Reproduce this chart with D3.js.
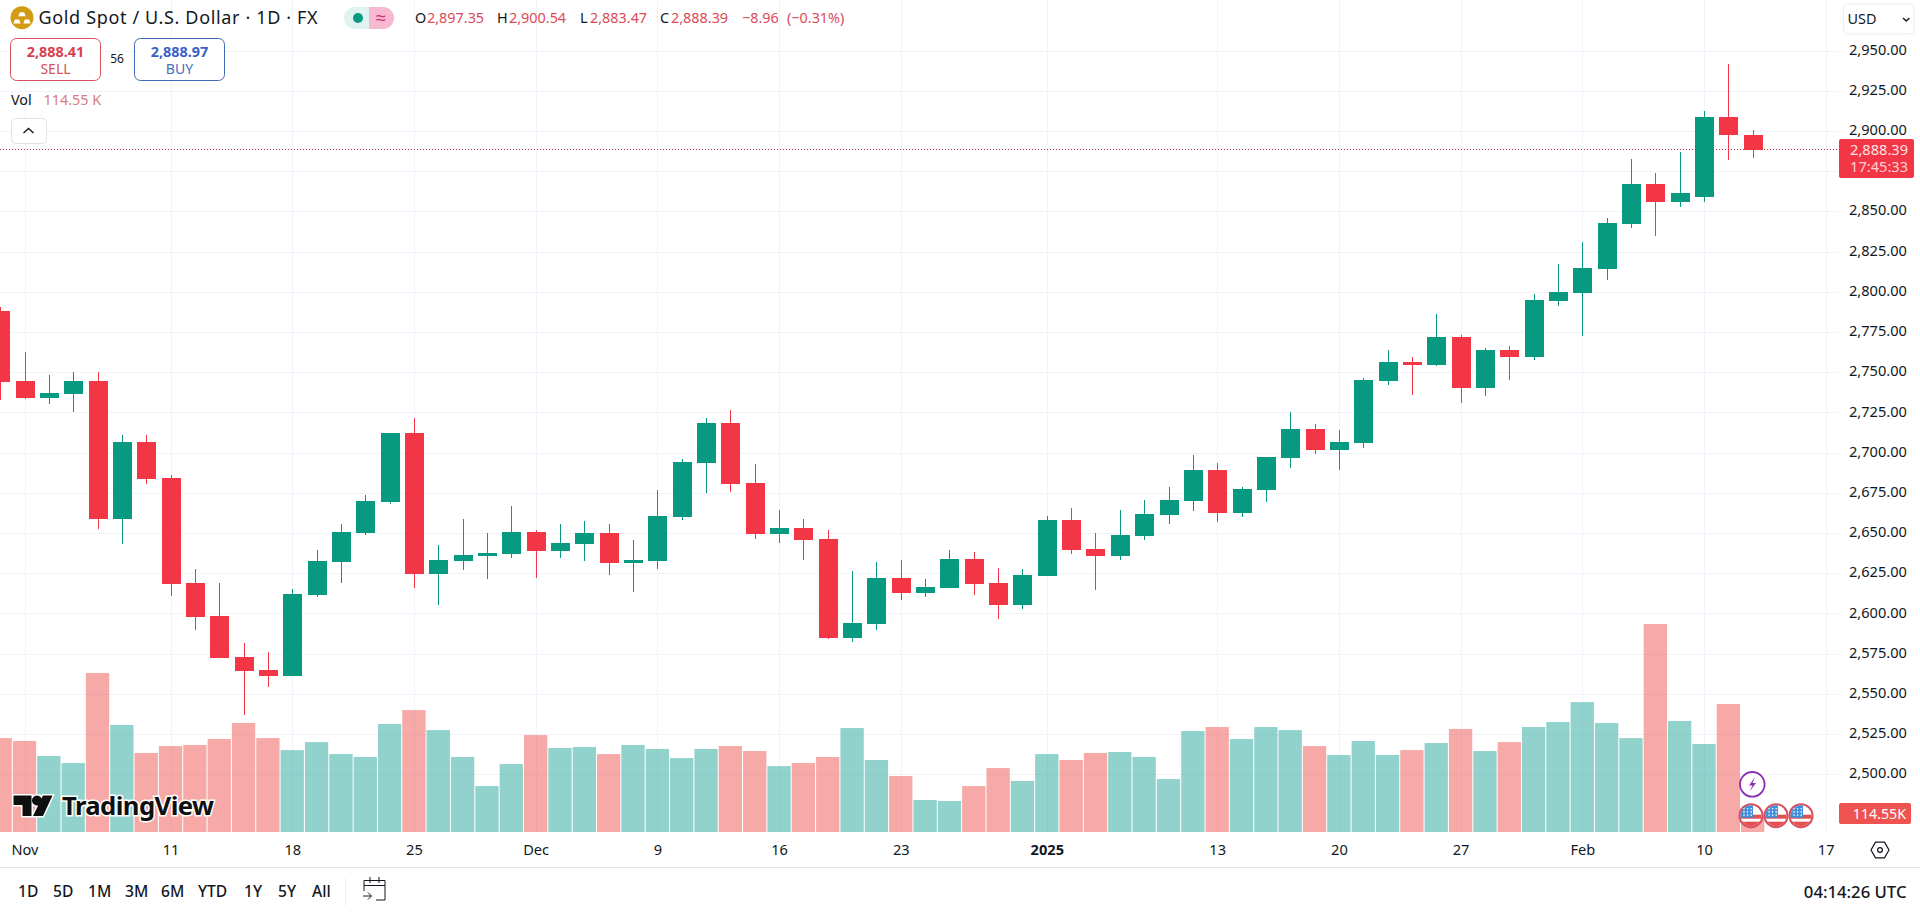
<!DOCTYPE html>
<html><head><meta charset="utf-8">
<script src="https://cdn.jsdelivr.net/npm/d3@7/dist/d3.min.js"></script>
<style>
html,body{margin:0;padding:0;background:#fff;overflow:hidden}
svg{display:block}
text{font-family:"Noto Sans",sans-serif}
.axis path,.grid path{display:none}
.grid line{stroke:#f0f3fa;stroke-width:1}
.grid text{display:none}
.axis line{display:none}
</style></head><body>
<svg id="c" width="1920" height="913"></svg>
<script>
// One session per entry, from 31 Oct 2024 to 12 Feb 2025
const open_ = [2788.1,2744.6,2734.0,2736.7,2744.6,2658.9,2706.6,2684.2,2618.9,2598.4,2572.9,2564.8,2561.3,2611.4,2632.2,2650.0,2669.3,2712.2,2624.7,2632.6,2635.7,2636.9,2650.6,2638.8,2643.2,2650.0,2631.3,2632.6,2660.0,2693.5,2718.4,2681.1,2649.4,2653.1,2646.3,2584.7,2593.4,2622.0,2612.7,2615.8,2633.8,2618.9,2605.2,2623.2,2658.1,2640.0,2635.7,2648.1,2661.2,2669.9,2689.2,2662.4,2676.7,2696.7,2714.7,2701.7,2706.0,2744.6,2756.4,2754.5,2771.9,2740.2,2763.8,2759.5,2794.3,2799.3,2814.2,2842.2,2867.1,2855.9,2859.0,2908.7,2897.35];
const high_ = [2790.8,2762.6,2748.3,2750.0,2750.0,2711.0,2711.0,2686.3,2627.6,2618.9,2581.6,2575.8,2615.2,2639.2,2655.6,2673.6,2712.2,2721.6,2642.5,2658.7,2650.0,2666.8,2651.7,2655.6,2657.5,2655.6,2645.6,2676.7,2696.0,2721.5,2726.5,2692.9,2664.3,2658.7,2651.9,2626.4,2632.0,2633.2,2621.4,2639.4,2638.2,2628.2,2627.6,2660.6,2665.5,2650.0,2664.3,2670.5,2678.6,2698.5,2693.5,2678.6,2697.3,2725.3,2717.8,2714.1,2746.4,2763.8,2759.5,2786.2,2773.2,2765.0,2766.3,2798.6,2817.3,2831.0,2845.9,2882.6,2873.9,2886.9,2912.5,2941.7,2900.54];
const low_ = [2732.8,2733.6,2730.3,2725.5,2652.5,2643.3,2680.7,2611.0,2589.9,2572.5,2537.0,2554.2,2561.3,2610.4,2618.9,2649.0,2668.0,2615.8,2605.2,2627.0,2621.4,2634.5,2622.0,2634.5,2632.6,2623.9,2613.3,2627.6,2658.1,2674.9,2675.5,2646.3,2643.8,2633.2,2584.0,2582.2,2589.7,2608.3,2610.2,2615.8,2611.4,2596.5,2602.7,2623.2,2637.0,2614.5,2633.2,2645.6,2655.6,2663.7,2656.8,2660.0,2669.3,2690.4,2699.2,2689.2,2703.1,2742.1,2735.9,2753.9,2730.7,2735.4,2745.2,2757.6,2791.2,2772.5,2807.4,2839.7,2834.7,2852.8,2855.9,2882.0,2883.47];
const close_ = [2744.2,2734.0,2736.9,2744.6,2658.9,2706.6,2683.8,2618.5,2598.0,2572.5,2564.2,2561.3,2612.0,2632.6,2650.6,2669.9,2712.2,2624.7,2633.2,2636.3,2637.6,2650.6,2638.8,2643.8,2650.0,2631.3,2633.2,2660.6,2694.2,2718.4,2680.5,2649.4,2653.1,2645.6,2584.7,2594.0,2622.0,2612.7,2616.4,2633.8,2618.3,2605.2,2623.9,2658.1,2639.4,2635.7,2648.8,2661.8,2670.5,2689.2,2662.4,2677.3,2697.3,2714.7,2701.7,2706.6,2745.2,2756.4,2754.5,2771.9,2740.2,2763.8,2759.5,2794.9,2799.9,2814.8,2842.8,2867.1,2855.9,2861.5,2908.7,2897.5,2888.39];
const volumeK = [587,569,475,431,994,669,494,537,544,581,681,587,512,562,487,469,675,762,637,469,287,425,606,525,531,487,544,519,462,519,537,506,412,431,469,650,450,350,200,194,287,400,319,487,450,494,500,469,331,631,656,581,656,637,537,481,569,481,512,556,644,506,562,656,687,812,681,587,1300,694,550,800,114.55];
const firstSession = -1;
const priceTicks = [2500,2525,2550,2575,2600,2625,2650,2675,2700,2725,2750,2775,2800,2825,2850,2875,2900,2925,2950];
const priceTickLabels = [2500,2525,2550,2575,2600,2625,2650,2675,2700,2725,2750,2775,2800,2825,2850,2900,2925,2950];
const timeTickSessions = [0,6,11,16,21,26,31,36,42,49,54,59,64,69,74];
const timeTickLabels = ["Nov","11","18","25","Dec","9","16","23","2025","13","20","27","Feb","10","17"];
const rangeLabels = ["1D","5D","1M","3M","6M","YTD","1Y","5Y","All"];
const rangeLabelStarts = [18,53,88,125,161,198,244,278,312];
const lastPrice = 2888.39, lastVolume = 114.55;

const UP="#089981", DOWN="#F23645", VUP="#26a69a", VDOWN="#ef5350";
const svg=d3.select("#c");
const paneR=1838, paneB=832;
svg.append("defs").append("clipPath").attr("id","pane").append("rect").attr("width",paneR).attr("height",paneB);

const x=d3.scaleLinear().domain([0,74]).range([24.5,1825.7]);
const y=d3.scaleLinear().domain([2500,2950]).range([774.3,50.6]);
const v=d3.scaleLinear().domain([0,1300]).range([paneB,624]);
const data=open_.map((o,i)=>({s:i+firstSession,o,h:high_[i],l:low_[i],c:close_[i],vol:volumeK[i]}));
const up=d=>d.c>=d.o;
const tf=d3.scaleOrdinal(timeTickSessions,timeTickLabels);

// grids
svg.append("g").attr("class","grid")
  .call(d3.axisRight(y).tickValues(priceTicks).tickSize(paneR).tickFormat(""));
svg.append("g").attr("class","grid").attr("transform",`translate(0,${paneB})`)
  .call(d3.axisTop(x).tickValues(timeTickSessions).tickSize(paneB).tickFormat(""));
svg.selectAll(".grid line").attr("shape-rendering","crispEdges");

const pane=svg.append("g").attr("clip-path","url(#pane)");
// volume
const bw=23.3;
pane.append("g").selectAll("rect").data(data).join("rect")
  .attr("x",d=>x(d.s)-bw/2).attr("width",bw)
  .attr("y",d=>v(d.vol)).attr("height",d=>paneB-v(d.vol))
  .attr("fill",d=>up(d)?VUP:VDOWN).attr("fill-opacity",0.5);

// last price line
pane.append("line").attr("x1",0).attr("x2",paneR).attr("y1",y(lastPrice)).attr("y2",y(lastPrice))
  .attr("stroke","#c8303f").attr("stroke-width",1).attr("stroke-dasharray","1 2").attr("shape-rendering","crispEdges");

// candles
const cg=pane.append("g").attr("shape-rendering","crispEdges");
cg.selectAll("line").data(data).join("line")
  .attr("x1",d=>Math.round(x(d.s))+.5).attr("x2",d=>Math.round(x(d.s))+.5)
  .attr("y1",d=>y(d.h)).attr("y2",d=>y(d.l))
  .attr("stroke",d=>up(d)?UP:DOWN);
const cw=19;
cg.selectAll("rect").data(data).join("rect")
  .attr("x",d=>Math.round(x(d.s))+.5-cw/2).attr("width",cw)
  .attr("y",d=>y(Math.max(d.o,d.c))).attr("height",d=>Math.max(1,Math.abs(y(d.o)-y(d.c))))
  .attr("fill",d=>up(d)?UP:DOWN);

// price axis
const ax=svg.append("g").attr("class","axis").attr("transform","translate(1849,-1.7)")
  .call(d3.axisRight(y).tickValues(priceTickLabels).tickSize(0).tickPadding(0).tickFormat(d3.format(",.2f")));
ax.selectAll("text").attr("font-size",14.6).attr("fill","#131722").attr("dy","0.36em");

// time axis
const tx=svg.append("g").attr("class","axis").attr("transform","translate(0,855)")
  .call(d3.axisTop(x).tickValues(timeTickSessions).tickSize(0).tickPadding(0).tickFormat(d=>tf(d)));
tx.selectAll("text").attr("font-size",14.6).attr("fill","#131722").attr("text-anchor","middle")
  .attr("font-weight",d=>tf(d)==="2025"?700:400);

// separators
svg.append("line").attr("x1",0).attr("x2",1920).attr("y1",867.5).attr("y2",867.5).attr("stroke","#e0e3eb");
svg.append("line").attr("x1",345.5).attr("x2",345.5).attr("y1",878).attr("y2",906).attr("stroke","#eef0f4");

function T(px,py,s,o={}){const t=svg.append("text").attr("x",px).attr("y",py).attr("dy","0.36em").text(s)
  .attr("font-size",o.fs||14.6).attr("fill",o.c||"#131722").attr("text-anchor",o.a||"start").attr("font-weight",o.w||400);
  if(o.ls)t.attr("letter-spacing",o.ls);return t;}

// header
svg.append("circle").attr("cx",22).attr("cy",17.7).attr("r",11.5).attr("fill","#d19c14");
[[22,12.8],[17,20],[27,20]].forEach(p=>svg.append("path").attr("d",`M${p[0]-3.6},${p[1]+3.5}l1.4,-4h4.4l1.4,4z`).attr("fill","#fff"));
T(38.5,18,"Gold Spot / U.S. Dollar · 1D · FX",{fs:18,ls:0.65});
svg.append("path").attr("d","M355,7H369V29H355a11,11 0 0 1 0,-22z").attr("fill","#dff3f0");
svg.append("path").attr("d","M369,7H383a11,11 0 0 1 0,22H369z").attr("fill","#f8b8d0");
svg.append("circle").attr("cx",358).attr("cy",18).attr("r",5).attr("fill",UP);
T(381,17.5,"≈",{fs:18,a:"middle",c:"#c9306b"});
const RED="#db4b57";
[["O",415,"2,897.35",427],["H",497,"2,900.54",509],["L",580,"2,883.47",590],["C",660,"2,888.39",671]].forEach(r=>{
  T(r[1],18,r[0],{fs:14.4});T(r[3],18,r[2],{fs:14.4,c:RED});});
T(742,18,"−8.96",{fs:14.4,c:RED});T(787,18,"(−0.31%)",{fs:14.4,c:RED});

function box(x0,x1,y0,y1,st,rx){svg.append("rect").attr("x",x0).attr("y",y0).attr("width",x1-x0).attr("height",y1-y0)
  .attr("rx",rx).attr("fill","#fff").attr("stroke",st).attr("stroke-width",1);}
box(10.5,100.5,38.5,80.5,"#d9505f",6);
T(55.5,51.7,"2,888.41",{a:"middle",c:"#d8404f",w:700,fs:14.4});T(55.5,69,"SELL",{a:"middle",c:"#d8505c",fs:14});
T(117,59,"56",{a:"middle",fs:12});
box(134.5,224.5,38.5,80.5,"#4068b8",6);
T(179.5,51.7,"2,888.97",{a:"middle",c:"#3b5fc8",w:700,fs:14.4});T(179.5,69,"BUY",{a:"middle",c:"#4a70c0",fs:14});
T(11,100,"Vol",{fs:14.4});T(43.5,100,"114.55 K",{fs:14.4,c:"#d97c7c"});
box(11.5,46.5,118.5,143.5,"#e0e3eb",4);
svg.append("path").attr("d","M23.5,133l5,-4.5l5,4.5").attr("fill","none").attr("stroke","#131722").attr("stroke-width",1.4);

// USD
box(1843.5,1914,4,34,"#eceef2",4);
T(1847.5,19,"USD",{fs:14.4});
svg.append("path").attr("d","M1903,18l3.2,3l3.2,-3").attr("fill","none").attr("stroke","#131722").attr("stroke-width",1.4);

// price label
svg.append("rect").attr("x",1839).attr("y",139).attr("width",75).attr("height",39).attr("rx",2).attr("fill",DOWN);
T(1908,149.5,d3.format(",.2f")(lastPrice),{a:"end",c:"#ffe3e6",fs:14.6});
T(1908,166.7,"17:45:33",{a:"end",c:"#ffd0d5",fs:14.6});
// volume label
svg.append("rect").attr("x",1839).attr("y",803).attr("width",72).attr("height",21).attr("rx",2).attr("fill",VDOWN);
T(1906,813.7,lastVolume+"K",{a:"end",c:"#fff",fs:14.2});

// events
const ev=svg.append("g");
ev.append("circle").attr("cx",1752.3).attr("cy",784.3).attr("r",12.3).attr("fill","#fff").attr("stroke","#8e2fb0").attr("stroke-width",1.8);
ev.append("path").attr("d","M1755,777l-6,8.5h3.5l-3,6l6.5,-8.5h-3.5z").attr("fill","#8e2fb0");
[1751,1776,1801].forEach((cx,i)=>{
  const cy=815.7;
  const id="f"+i;
  svg.select("defs").append("clipPath").attr("id",id).append("circle").attr("cx",cx).attr("cy",cy).attr("r",10.5);
  const g=ev.append("g");
  g.append("circle").attr("cx",cx).attr("cy",cy).attr("r",11.5).attr("fill","#fff").attr("stroke","#d8505f").attr("stroke-width",2);
  const f=g.append("g").attr("clip-path",`url(#${id})`);
  f.append("rect").attr("x",cx-11).attr("y",cy-1).attr("width",22).attr("height",4).attr("fill","#e2504f");
  f.append("rect").attr("x",cx-11).attr("y",cy+6).attr("width",22).attr("height",5).attr("fill","#e2504f");
  f.append("rect").attr("x",cx-11).attr("y",cy-11).attr("width",13).attr("height",13).attr("fill","#3f8fdc");
  for(let a=0;a<3;a++)for(let b=0;b<3;b++)
    f.append("circle").attr("cx",cx-7+a*3.6).attr("cy",cy-7+b*3.2).attr("r",.8).attr("fill","#fff");
});

// settings icon
svg.append("path").attr("d",d3.range(6).map(i=>{const a=Math.PI/3*i;return (i?"L":"M")+(1880+9*Math.cos(a))+","+(850+9*Math.sin(a));}).join("")+"z")
  .attr("fill","none").attr("stroke","#131722").attr("stroke-width",1.2);
svg.append("circle").attr("cx",1880).attr("cy",850).attr("r",2.4).attr("fill","none").attr("stroke","#131722").attr("stroke-width",1.2);

// bottom bar
rangeLabels.forEach((s,i)=>T(rangeLabelStarts[i],891.7,s,{fs:15.6,w:500}));
T(1906.5,891.7,"04:14:26 UTC",{a:"end",fs:16.7,w:500});
svg.append("path").attr("d","M364,891v-10.5h21v19.5h-9M364,885.5h21M370,877v6M379,877v6M363,896h8M368,892.5l3.5,3.5l-3.5,3.5")
  .attr("fill","none").attr("stroke","#131722").attr("stroke-width",1);

// watermark
const wm=svg.append("g");
const logo="M13.5,795.5H31.5V816H22.5V805H13.5zM43,795.5H52.5L43,816H33zM37,795.5a5,5 0 1 1 -.01,0z";
wm.append("path").attr("d",logo).attr("fill","#0f0f0f").attr("stroke","#fff").attr("stroke-width",3).attr("paint-order","stroke");
wm.append("text").attr("x",62).attr("y",806).attr("dy","0.36em").text("TradingView")
  .attr("font-size",25.7).attr("font-weight",700).attr("letter-spacing",-.6).attr("fill","#0f0f0f")
  .attr("stroke","#fff").attr("stroke-width",3).attr("paint-order","stroke");
</script>
</body></html>
